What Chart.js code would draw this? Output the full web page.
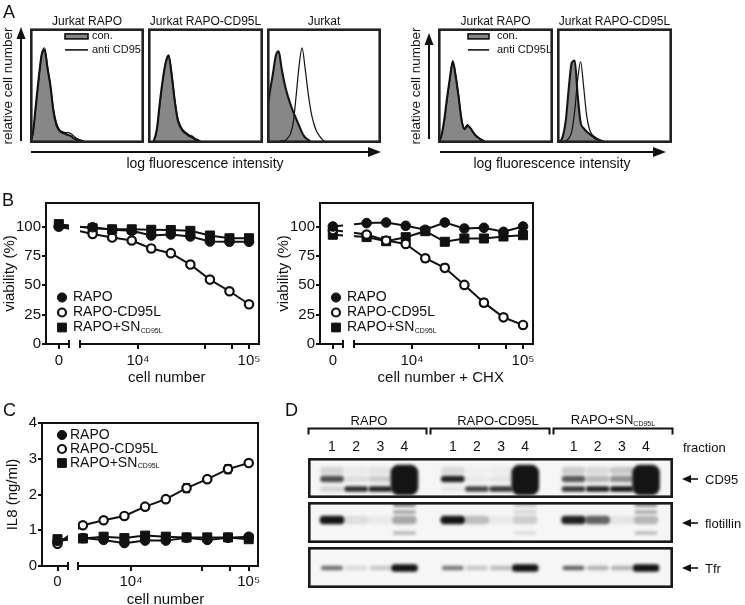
<!DOCTYPE html>
<html>
<head>
<meta charset="utf-8">
<script src="https://cdn.jsdelivr.net/npm/chart.js@4.4.1/dist/chart.umd.min.js"></script>
<style>
  html, body { margin: 0; padding: 0; background: #fff; overflow: hidden; }
  body { width: 745px; height: 605px; position: relative; font-family: "Liberation Sans", Arial, Helvetica, sans-serif; color: #111; }
  canvas { position: absolute; }
  .t { position: absolute; white-space: nowrap; line-height: 1; transform: translate(-50%, -50%); }
  .l { position: absolute; white-space: nowrap; line-height: 1; transform: translateY(-50%); }
  .rot { transform: translate(-50%, -50%) rotate(-90deg); }
  .sub { font-size: 7px; vertical-align: -2px; }
  svg { position: absolute; left: 0; top: 0; }
</style>
</head>
<body>

<canvas id="h1" width="114" height="129" style="left:30px;top:14px"></canvas>
<canvas id="h2" width="115" height="129" style="left:148px;top:14px"></canvas>
<canvas id="h3" width="114" height="129" style="left:267px;top:14px"></canvas>
<canvas id="h4" width="115" height="129" style="left:438px;top:14px"></canvas>
<canvas id="h5" width="115" height="129" style="left:557px;top:14px"></canvas>

<canvas id="bLeft" width="270" height="200" style="left:0;top:190px"></canvas>
<canvas id="bRight" width="270" height="200" style="left:274px;top:190px"></canvas>
<canvas id="cIl8" width="270" height="202" style="left:0;top:410px"></canvas>

<canvas id="dCd95" width="445" height="63" style="left:300px;top:435px"></canvas>
<canvas id="dFlot" width="445" height="41" style="left:300px;top:502px"></canvas>
<canvas id="dTfr" width="445" height="41" style="left:300px;top:547px"></canvas>

<svg width="745" height="605">
  <g stroke="#111" stroke-width="2" fill="none">
    <line x1="21" y1="141" x2="21" y2="37"/>
    <line x1="31" y1="152" x2="370" y2="152"/>
    <line x1="429" y1="139" x2="429" y2="43"/>
    <line x1="440" y1="152" x2="655" y2="152"/>
    <path d="M308.5 434.5V428.5H426.5V434.5"/>
    <path d="M430.5 434.5V428.5H549.5V434.5"/>
    <path d="M553.5 434.5V428.5H672.5V434.5"/>
    <line x1="689" y1="479" x2="698" y2="479" stroke-width="1.6"/>
    <line x1="689" y1="523" x2="698" y2="523" stroke-width="1.6"/>
    <line x1="689" y1="568" x2="698" y2="568" stroke-width="1.6"/>
  </g>
  <g fill="#111">
    <polygon points="21,27 16.5,39 25.5,39"/>
    <polygon points="381,152 368,147 368,157"/>
    <polygon points="429,33 424.5,45 433.5,45"/>
    <polygon points="666,152 653,147 653,157"/>
    <polygon points="682,479 691,475 691,483"/>
    <polygon points="682,523 691,519 691,527"/>
    <polygon points="682,568 691,564 691,572"/>
  </g>
</svg>

<div class="l" style="left:3px;top:12px;font-size:18px">A</div>
<div class="t rot" style="left:8px;top:86px;font-size:13.5px">relative cell number</div>
<div class="t" style="left:205px;top:163px;font-size:14px">log fluorescence intensity</div>
<div class="t rot" style="left:416px;top:86px;font-size:13.5px">relative cell number</div>
<div class="t" style="left:552px;top:163px;font-size:14px">log fluorescence intensity</div>

<div class="l" style="left:2px;top:200px;font-size:18px">B</div>
<div class="l" style="left:3px;top:410px;font-size:18px">C</div>
<div class="l" style="left:285px;top:410px;font-size:18px">D</div>

<div class="t" style="left:369px;top:420px;font-size:13px">RAPO</div>
<div class="t" style="left:498px;top:420px;font-size:13px">RAPO-CD95L</div>
<div class="t" style="left:613px;top:420px;font-size:13px">RAPO+SN<span class="sub">CD95L</span></div>
<div class="l" style="left:683px;top:447px;font-size:13px">fraction</div>
<div class="l" style="left:705px;top:479px;font-size:13px">CD95</div>
<div class="l" style="left:705px;top:523px;font-size:13px">flotillin</div>
<div class="l" style="left:705px;top:568px;font-size:13px">Tfr</div>

<script>
// ---- panel A: flow histograms (relative counts per fluorescence bin)
const histBins = Array.from({length: 40}, (_, i) => i);
const rapoCon = [0, 9, 33, 57, 77, 81, 65, 50, 28, 16, 11, 9, 8, 7, 6, 4, 3, 2, 1, 0];
const rapoAntiCd95 = [0, 8, 31, 56, 78, 83, 67, 49, 30, 18, 12, 10, 9, 9, 8, 6, 4, 3, 2, 1, 0];
const cd95lCon = [0, 0, 2, 12, 35, 55, 70, 76, 60, 38, 21, 14, 10, 8, 6, 5, 3, 2, 1, 0];
const cd95lAntiCd95 = [0, 0, 2, 11, 33, 54, 71, 77, 62, 40, 23, 15, 11, 9, 7, 6, 4, 3, 1, 0];
const jurkatCon = [28, 45, 60, 76, 80, 65, 52, 42, 34, 27, 21, 15, 9, 5, 3, 1, 0];
const jurkatAntiCd95 = [1, 1, 1, 1, 1, 2, 2, 4, 8, 18, 42, 68, 83, 66, 45, 28, 17, 10, 6, 3, 1, 0];
const rapoCon2 = [0, 5, 18, 38, 56, 71, 58, 40, 20, 12, 15, 13, 9, 6, 4, 2, 1, 0];
const rapoAntiCd95l = [0, 5, 17, 36, 55, 72, 60, 41, 21, 13, 16, 13, 9, 6, 4, 3, 1, 0];
const cd95lCon2 = [0, 1, 6, 20, 48, 70, 72, 42, 18, 13, 10, 8, 6, 4, 3, 2, 1, 0];
const cd95lAntiCd95l = [0, 0, 1, 2, 4, 10, 28, 55, 71, 50, 25, 12, 7, 5, 3, 2, 1, 0];

// ---- panels B and C: cell numbers (1.5-fold dilutions) plus the 0 control
const cellNumbers = [3900, 5850, 8780, 13170, 19750, 29630, 44440, 66670, 100000];
const logTickValues = [10000, 40000, 70000, 100000];
const logTickLabels = ['10⁴', '', '', '10⁵'];
const viabTicks = [0, 25, 50, 75, 100];
const il8Ticks = [0, 1, 2, 3, 4];

const viabRapo = [99.4, 97.2, 96.3, 92.3, 93.2, 91.5, 87.2, 87, 87];
const viabCd95l = [93.7, 90.6, 88.1, 81.3, 77.3, 67.6, 54.8, 44.9, 33.8];
const viabSn = [98.5, 97.6, 97.6, 97.2, 97, 96.3, 92.3, 90, 90];
const viabZero = [100, 100, 102];
const viabCd95lErr = [1, 1, 1, 3, 2, 1.5, 1.5, 1, 1.5];

const chxRapo = [102.9, 103.4, 100.6, 97.2, 103.4, 98.3, 98.9, 95.5, 100];
const chxCd95l = [93.2, 88.1, 85.2, 73, 64.8, 50.3, 35.2, 22.7, 16.2];
const chxSn = [91, 87.5, 90.9, 96, 87, 89.8, 89.8, 91.5, 92.6];
const chxZero = [100, 97, 93];
const chxCd95lErr = [1, 1, 1, 3, 3, 2.5, 3, 1.5, 1];

const il8Rapo = [0.78, 0.73, 0.64, 0.71, 0.71, 0.79, 0.73, 0.79, 0.82];
const il8Cd95l = [1.14, 1.28, 1.4, 1.66, 1.87, 2.18, 2.43, 2.71, 2.88];
const il8Sn = [0.77, 0.82, 0.78, 0.85, 0.82, 0.8, 0.8, 0.8, 0.75];
const il8Zero = [0.7, 0.62, 0.75];
const il8Cd95lErr = [0.03, 0.03, 0.03, 0.04, 0.04, 0.12, 0.08, 0.12, 0.04];

// ---- panel D: band intensity per lane (blank slot between groups)
const laneLabels = ['1', '2', '3', '4', '', '1', '2', '3', '4', '', '1', '2', '3', '4'];
const cd95Smear = [0.15, 0.05, 0.08, null, null, 0.12, 0.03, 0.04, null, null, 0.18, 0.12, 0.2, null];
const cd95Upper = [0.75, 0.1, 0.18, null, null, 0.95, 0.05, 0.07, null, null, 0.7, 0.28, 0.45, null];
const cd95Lower = [0.15, 0.9, 0.95, null, null, 0.06, 0.8, 0.85, null, null, 0.85, 0.95, 1, null];
const cd95Bulk = [null, null, null, 1, null, null, null, null, 1, null, null, null, null, 1];
const flotMain = [1, 0.1, 0.05, 0.35, null, 1, 0.25, 0.05, 0.18, null, 0.95, 0.65, 0.08, 0.28];
const flotLadder = [null, null, null, 0.55, null, null, null, null, 0.22, null, null, null, null, 0.5];
const tfrBand = [0.6, 0.12, 0.2, null, null, 0.55, 0.2, 0.25, null, null, 0.65, 0.3, 0.3, null];
const tfrStrong = [null, null, null, 1, null, null, null, null, 1, null, null, null, null, 1];
// migration of each band row (strip units, 0 = bottom)
const cd95SmearPos = [24, 31];
const cd95UpperPos = [16, 22];
const cd95LowerPos = [6.5, 11.5];
const cd95BulkPos = [3, 33];
const flotMainPos = [19, 27];
const flotLadderPos = [[36.5, 39.5], [29.5, 32.5], [8.5, 11.5]];
const tfrPos = [18, 22];
const tfrStrongPos = [16.5, 23.5];

Chart.defaults.font.family = '"Liberation Sans", Arial, Helvetica, sans-serif';
Chart.defaults.color = '#111';
Chart.defaults.animation = false;
Chart.defaults.events = [];
Chart.defaults.plugins.legend.display = false;
Chart.defaults.plugins.tooltip.enabled = false;

const framePlugin = {
  id: 'frame',
  beforeDraw(chart, args, o) {
    if (!o.width || !o.fill) return;
    const a = chart.chartArea, ctx = chart.ctx;
    ctx.save();
    ctx.fillStyle = o.fill;
    ctx.fillRect(a.left - (o.left || 0), a.top, a.width + (o.left || 0) + (o.right || 0), a.height);
    ctx.restore();
  },
  afterDraw(chart, args, o) {
    if (!o.width) return;
    const a = chart.chartArea, ctx = chart.ctx;
    const h = o.inset ? o.width / 2 : 0;
    const l = a.left - (o.left || 0) + h, r = a.right + (o.right || 0) - h;
    ctx.save();
    ctx.strokeStyle = o.color;
    ctx.lineWidth = o.width;
    ctx.strokeRect(l, a.top + h, r - l, a.height - 2 * h);
    if (o.gap) {
      const split = chart.scales.xl.left;
      ctx.fillStyle = '#fff';
      ctx.fillRect(split - o.gap, a.top + 2, o.gap * 2, a.height + 1.5);
      [split - o.gap, split + o.gap].forEach(x => {
        ctx.beginPath();
        ctx.moveTo(x, a.bottom - 4);
        ctx.lineTo(x, a.bottom + 4);
        ctx.stroke();
      });
    }
    ctx.restore();
  }
};

// lines from the 0 control to the first dilution, and error bars
const linkPlugin = {
  id: 'link',
  beforeDatasetsDraw(chart, args, o) {
    if (!o.on) return;
    const ctx = chart.ctx, ys = chart.scales.y;
    ctx.save();
    ctx.strokeStyle = '#111';
    ctx.lineWidth = 2;
    for (let i = 0; i < chart.data.datasets.length; i += 2) {
      const first = chart.getDatasetMeta(i).data[0];
      const zero = chart.getDatasetMeta(i + 1).data[0];
      ctx.beginPath();
      ctx.moveTo(zero.x, zero.y);
      ctx.lineTo(first.x, first.y);
      ctx.stroke();
    }
    ctx.lineWidth = 1.6;
    chart.data.datasets.forEach((ds, i) => {
      if (!ds.errors) return;
      chart.getDatasetMeta(i).data.forEach((pt, j) => {
        const e = ds.errors[j];
        if (!e) return;
        const v = ds.data[j].y;
        const y1 = ys.getPixelForValue(v + e), y2 = ys.getPixelForValue(v - e);
        ctx.beginPath();
        ctx.moveTo(pt.x, y1); ctx.lineTo(pt.x, y2);
        ctx.moveTo(pt.x - 3.5, y1); ctx.lineTo(pt.x + 3.5, y1);
        ctx.moveTo(pt.x - 3.5, y2); ctx.lineTo(pt.x + 3.5, y2);
        ctx.stroke();
      });
    });
    ctx.restore();
  }
};

const legendPlugin = {
  id: 'markLegend',
  afterDraw(chart, args, o) {
    if (!o.items) return;
    const a = chart.chartArea, ctx = chart.ctx;
    ctx.save();
    o.items.forEach((it, i) => {
      const y = a.top + o.y + i * o.rowH;
      const mx = a.left + o.mx;
      ctx.fillStyle = '#111';
      ctx.strokeStyle = '#111';
      if (it.point) {
        ctx.fillStyle = it.point.bg;
        ctx.lineWidth = it.point.borderWidth;
        Chart.helpers.drawPoint(ctx, it.point, mx, y);
      } else if (it.type === 'box') {
        ctx.fillStyle = '#878787';
        ctx.fillRect(mx - o.mw / 2, y - 2.5, o.mw, 5);
        ctx.lineWidth = 1.6;
        ctx.strokeRect(mx - o.mw / 2, y - 2.5, o.mw, 5);
      } else if (it.type === 'line') {
        ctx.lineWidth = 1.6;
        ctx.beginPath();
        ctx.moveTo(mx - o.mw / 2, y);
        ctx.lineTo(mx + o.mw / 2, y);
        ctx.stroke();
      }
      ctx.fillStyle = '#111';
      ctx.font = o.size + 'px "Liberation Sans", Arial, sans-serif';
      ctx.textBaseline = 'middle';
      ctx.fillText(it.text, a.left + o.tx, y);
      if (it.sub) {
        const w = ctx.measureText(it.text).width;
        ctx.font = '7px "Liberation Sans", Arial, sans-serif';
        ctx.fillText(it.sub, a.left + o.tx + w + 0.5, y + 3.5);
      }
    });
    ctx.restore();
  }
};

const softPlugin = {
  id: 'soft',
  beforeDatasetsDraw(chart, args, o) {
    if (!o.px) return;
    chart.ctx.save();
    chart.ctx.filter = 'blur(' + o.px + 'px)';
  },
  afterDatasetsDraw(chart, args, o) {
    if (!o.px) return;
    chart.ctx.restore();
  }
};

Chart.register(framePlugin, linkPlugin, legendPlugin, softPlugin);

// ---------- panel A
const histChart = (id, title, con, anti, legend) => new Chart(document.getElementById(id), {
  type: 'line',
  data: {
    labels: histBins,
    datasets: [
      { data: anti, borderColor: '#111', borderWidth: 1.2, fill: false, pointRadius: 0, cubicInterpolationMode: 'monotone' },
      { data: con, borderColor: '#151515', borderWidth: 2.1, backgroundColor: '#878787', fill: 'origin', pointRadius: 0, cubicInterpolationMode: 'monotone' }
    ]
  },
  options: {
    responsive: false,
    layout: { padding: 0 },
    scales: {
      x: { display: false, offset: false },
      y: { display: false, min: 0, max: 100 }
    },
    plugins: {
      title: { display: true, text: title, font: { size: 12, weight: 'normal' }, padding: { top: 0, bottom: 0 }, color: '#111' },
      frame: { width: 2.6, color: '#222', inset: true },
      markLegend: legend || {}
    }
  }
});

const conLegend = (mx, mw, tx, antiText) => ({
  mx, mw, tx, y: 8, rowH: 13.5, size: 11,
  items: [{ type: 'box', text: 'con.' }, { type: 'line', text: antiText }]
});

histChart('h1', 'Jurkat RAPO', rapoCon, rapoAntiCd95, conLegend(46.5, 23, 62, 'anti CD95'));
histChart('h2', 'Jurkat RAPO-CD95L', cd95lCon, cd95lAntiCd95);
histChart('h3', 'Jurkat', jurkatCon, jurkatAntiCd95);
histChart('h4', 'Jurkat RAPO', rapoCon2, rapoAntiCd95l, conLegend(40.5, 21, 59, 'anti CD95L'));
histChart('h5', 'Jurkat RAPO-CD95L', cd95lCon2, cd95lAntiCd95l);

// ---------- panels B and C
const markers = [
  { pointStyle: 'circle', pointRadius: 4.8, pointBackgroundColor: '#111', pointBorderColor: '#111', pointBorderWidth: 1 },
  { pointStyle: 'circle', pointRadius: 4.2, pointBackgroundColor: '#fff', pointBorderColor: '#111', pointBorderWidth: 2.2 },
  { pointStyle: 'rect', pointRadius: 6.4, pointBackgroundColor: '#111', pointBorderColor: '#111', pointBorderWidth: 1 }
];
const legendItems = [
  { text: 'RAPO', point: { pointStyle: 'circle', radius: 4.6, borderWidth: 1, bg: '#111' } },
  { text: 'RAPO-CD95L', point: { pointStyle: 'circle', radius: 4, borderWidth: 2.2, bg: '#fff' } },
  { text: 'RAPO+SN', sub: 'CD95L', point: { pointStyle: 'rect', radius: 6.2, borderWidth: 1, bg: '#111' } }
];

const axisGrid = { display: true, drawOnChartArea: false, drawTicks: true, tickLength: 5, lineWidth: 2, color: '#111' };
const axisBorder = { display: true, width: 2, color: '#111' };

function doseChart(id, cfg) {
  const datasets = [];
  cfg.series.forEach((vals, k) => {
    datasets.push({
      data: cellNumbers.map((x, i) => ({ x, y: vals[i] })),
      xAxisID: 'xl', borderColor: '#111', borderWidth: 2, errors: cfg.errors[k], ...markers[k]
    });
    datasets.push({
      data: [{ x: 0, y: cfg.zero[k] }],
      xAxisID: 'xz', showLine: false, ...markers[k]
    });
  });
  return new Chart(document.getElementById(id), {
    type: 'line',
    data: { datasets },
    options: {
      responsive: false,
      layout: { padding: { top: 13, right: cfg.padRight, left: 0, bottom: 0 } },
      scales: {
        y: {
          min: 0, max: cfg.yMax,
          afterBuildTicks: s => { s.ticks = cfg.yTicks.map(value => ({ value })); },
          afterFit: s => { s.width = cfg.yWidth; },
          ticks: { font: { size: 15 }, padding: 1, color: '#111' },
          grid: { ...axisGrid, tickLength: 4 },
          border: axisBorder,
          title: { display: true, text: cfg.yTitle, font: { size: 15 }, padding: { top: cfg.yTitlePad, bottom: 0 }, color: '#111' }
        },
        xz: {
          type: 'linear', position: 'bottom', stack: 'x', stackWeight: cfg.zeroWidth,
          min: cfg.zeroMin, max: cfg.zeroMin + 2,
          afterBuildTicks: s => { s.ticks = [{ value: 0 }]; },
          afterFit: s => { s.height = cfg.xHeight; },
          ticks: { font: { size: 15 }, padding: cfg.xPad, color: '#111', callback: () => '0' },
          grid: axisGrid,
          border: axisBorder
        },
        xl: {
          type: 'logarithmic', position: 'bottom', stack: 'x', stackWeight: cfg.logWidth,
          min: cfg.logMin, max: cfg.logMax,
          afterBuildTicks: s => { s.ticks = logTickValues.map(value => ({ value })); },
          afterFit: s => { s.height = cfg.xHeight; },
          ticks: { font: { size: 15 }, padding: cfg.xPad, color: '#111', autoSkip: false, maxRotation: 0, callback: (v, i) => logTickLabels[i] },
          grid: axisGrid,
          border: axisBorder,
          title: { display: true, text: cfg.xTitle, font: { size: 15 }, padding: { top: 0, bottom: 3 }, color: '#111' }
        }
      },
      plugins: {
        frame: { width: 2, color: '#111', gap: cfg.gap },
        link: { on: true },
        markLegend: { mx: cfg.legX, tx: cfg.legTx, y: cfg.legY, rowH: cfg.legRow, size: 14, items: legendItems }
      }
    }
  });
}

const viabBase = {
  yMax: 120, yTicks: viabTicks, yTitle: 'viability (%)', yWidth: 46, yTitlePad: 1, padRight: 11,
  zeroWidth: 28.5, zeroMin: -0.9, logWidth: 184.5, logMin: 2680, logMax: 123000,
  xHeight: 46, xPad: 3, gap: 5.5, legX: 16, legTx: 27, legY: 94.5, legRow: 15
};
doseChart('bLeft', { ...viabBase, xTitle: 'cell number', series: [viabRapo, viabCd95l, viabSn], zero: viabZero, errors: [null, viabCd95lErr, null] });
doseChart('bRight', { ...viabBase, xTitle: 'cell number + CHX', series: [chxRapo, chxCd95l, chxSn], zero: chxZero, errors: [null, chxCd95lErr, null] });
doseChart('cIl8', {
  yMax: 4, yTicks: il8Ticks, yTitle: 'IL8 (ng/ml)', yWidth: 42, yTitlePad: 4, padRight: 12,
  zeroWidth: 31, zeroMin: -1, logWidth: 185, logMin: 3213, logMax: 119900,
  xHeight: 46, xPad: 2, gap: 5, legX: 20, legTx: 28, legY: 12, legRow: 14,
  xTitle: 'cell number', series: [il8Rapo, il8Cd95l, il8Sn], zero: il8Zero, errors: [null, il8Cd95lErr, null]
});

// ---------- panel D
const bandSet = (levels, pos, thick, round) => ({
  data: levels.map(v => (v == null ? null : pos)),
  backgroundColor: levels.map(v => 'rgba(20,20,20,' + (v || 0) + ')'),
  barThickness: thick, borderRadius: round || 5, borderSkipped: false, grouped: false, clip: false
});
const scaleLevels = (levels, f) => levels.map(v => (v == null ? null : v * f));

function blotChart(id, datasets, yMax, showLanes) {
  return new Chart(document.getElementById(id), {
    type: 'bar',
    data: { labels: laneLabels, datasets },
    options: {
      responsive: false,
      layout: { padding: { left: 32, right: 99, top: 0, bottom: 0 } },
      scales: {
        x: {
          type: 'category', offset: false, display: showLanes, position: 'top',
          afterFit: s => { if (showLanes) s.height = 23; },
          ticks: { font: { size: 14 }, padding: 2, color: '#111', autoSkip: false, maxRotation: 0 },
          grid: { display: false, drawTicks: false },
          border: { display: false }
        },
        y: { display: false, min: 0, max: yMax }
      },
      plugins: {
        frame: { width: 2.6, color: '#1a1a1a', left: 24, right: 27, inset: true, fill: '#f6f6f6' },
        soft: { px: 1.4 }
      }
    }
  });
}

blotChart('dCd95', [
  bandSet(cd95Bulk, cd95BulkPos, 27, 8),
  bandSet(cd95Lower, cd95LowerPos, 23),
  bandSet(cd95Upper, cd95UpperPos, 23),
  bandSet(cd95Smear, cd95SmearPos, 23)
], 40, true);

blotChart('dFlot', [
  bandSet(flotMain, flotMainPos, 24),
  bandSet(flotLadder, flotLadderPos[0], 22),
  bandSet(scaleLevels(flotLadder, 0.7), flotLadderPos[1], 22),
  bandSet(scaleLevels(flotLadder, 0.5), flotLadderPos[2], 22)
], 41, false);

blotChart('dTfr', [
  bandSet(tfrStrong, tfrStrongPos, 26),
  bandSet(tfrBand, tfrPos, 21)
], 41, false);
</script>
</body>
</html>
